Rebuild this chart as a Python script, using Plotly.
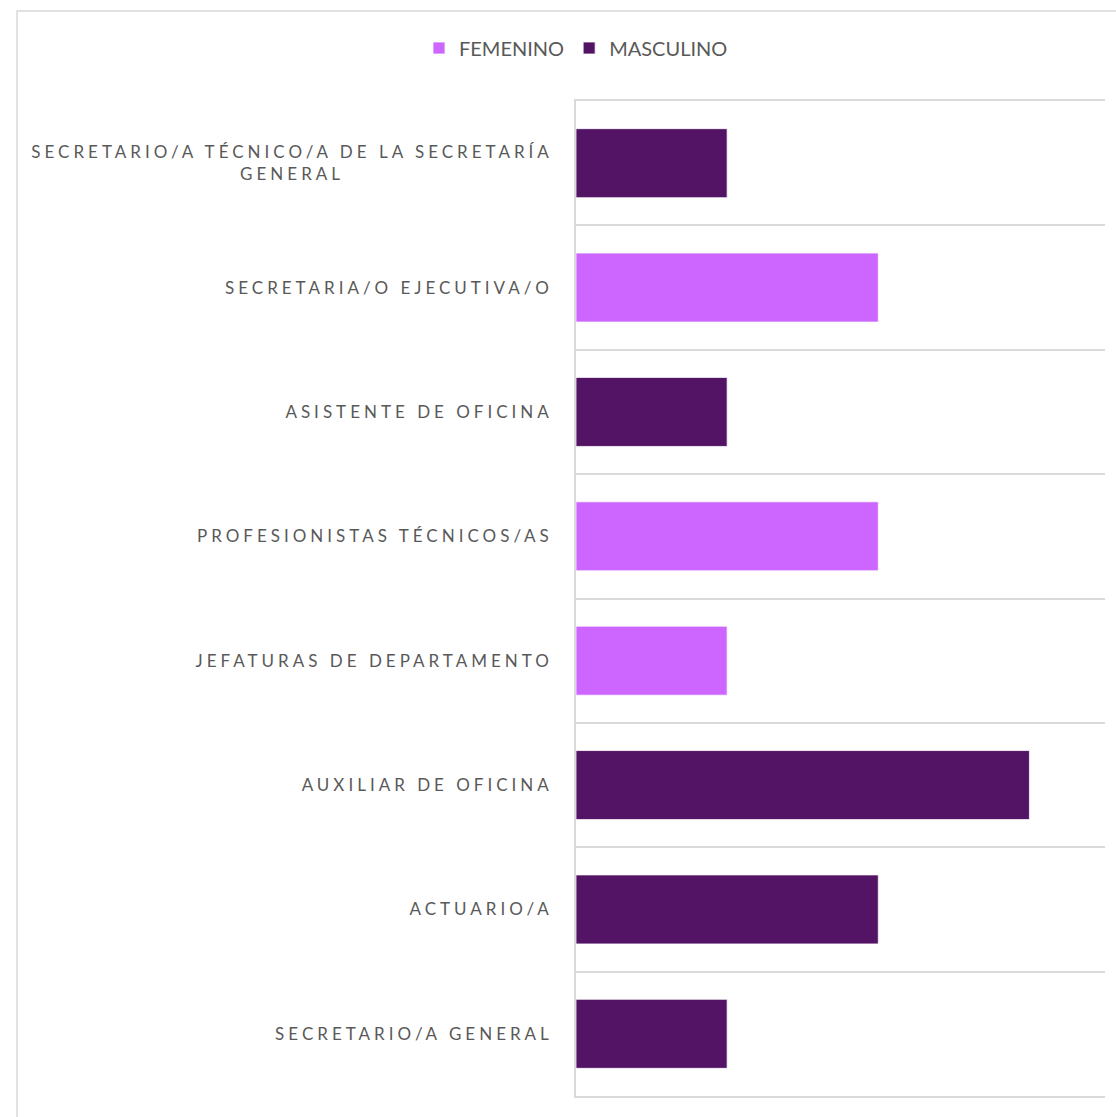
import plotly.graph_objects as go

categories = [
    "SECRETARIO/A TÉCNICO/A DE LA SECRETARÍA<br>GENERAL",
    "SECRETARIA/O EJECUTIVA/O",
    "ASISTENTE DE OFICINA",
    "PROFESIONISTAS TÉCNICOS/AS",
    "JEFATURAS DE DEPARTAMENTO",
    "AUXILIAR DE OFICINA",
    "ACTUARIO/A",
    "SECRETARIO/A GENERAL",
]
femenino = [None, 2, None, 2, 1, None, None, None]
masculino = [1, None, 1, None, None, 3, 2, 1]

COL_F = "#CC66FF"
COL_M = "#541466"
GRID = "#D9D9D9"
TEXT = "#595959"

fig = go.Figure()
fig.add_trace(go.Bar(y=categories, x=femenino, name="FEMENINO", orientation="h",
                     marker=dict(color=COL_F, line=dict(color="white", width=0.75))))
fig.add_trace(go.Bar(y=categories, x=masculino, name="MASCULINO", orientation="h",
                     marker=dict(color=COL_M, line=dict(color="white", width=0.75))))

W, H = 1116, 1117
L, R, T, B = 576, 11, 101, 21
pw, ph = W - L - R, H - T - B

def px_x(p):
    return (p - L) / pw

def px_y(p):
    return (H - B - p) / ph

fig.update_layout(
    width=W, height=H,
    margin=dict(l=L, r=R, t=T, b=B, autoexpand=False),
    paper_bgcolor="white", plot_bgcolor="white",
    barmode="overlay", bargap=0.445,
    font=dict(family="Lato, Carlito, 'Open Sans', sans-serif", color=TEXT),
    showlegend=True,
    legend=dict(orientation="h", x=px_x(576), xanchor="center", y=px_y(48), yanchor="middle",
                font=dict(size=20, color=TEXT), traceorder="normal", itemclick=False),
    xaxis=dict(range=[0, 3.5], showticklabels=False, showgrid=False, zeroline=False,
               showline=True, linecolor=GRID, linewidth=1.5, mirror=True, ticks=""),
    yaxis=dict(type="category", autorange="reversed", tickson="boundaries",
               showgrid=True, gridcolor=GRID, gridwidth=1.5, ticks="",
               showline=True, linecolor=GRID, linewidth=1.5,
               tickfont=dict(size=17, color=TEXT), ticklabelstandoff=18),
    shapes=[dict(type="rect", xref="paper", yref="paper",
                 x0=px_x(17), x1=px_x(1140), y0=px_y(1140), y1=px_y(11),
                 line=dict(color=GRID, width=1.5), fillcolor="rgba(0,0,0,0)", layer="below")],
)

post = """
document.documentElement.style.margin = '0';
document.body.style.margin = '0';
document.body.style.padding = '0';
var gd = document.getElementById('{plot_id}');
var st = document.createElement('style');
st.innerHTML = '.ytick text{letter-spacing:4px;}';
document.head.appendChild(st);
gd.querySelectorAll('.ytick text').forEach(function(t){
  var lines = t.querySelectorAll('tspan.line');
  if (lines.length > 1) {
    var ws = Array.prototype.map.call(lines, function(l){ return l.getComputedTextLength(); });
    var mw = Math.max.apply(null, ws);
    lines.forEach(function(l, i){
      var x = parseFloat(l.getAttribute('x'));
      l.setAttribute('x', x - (mw - ws[i]) / 2);
    });
  }
});
"""

fig.write_html("out.html", post_script=post, config={"displayModeBar": False})
